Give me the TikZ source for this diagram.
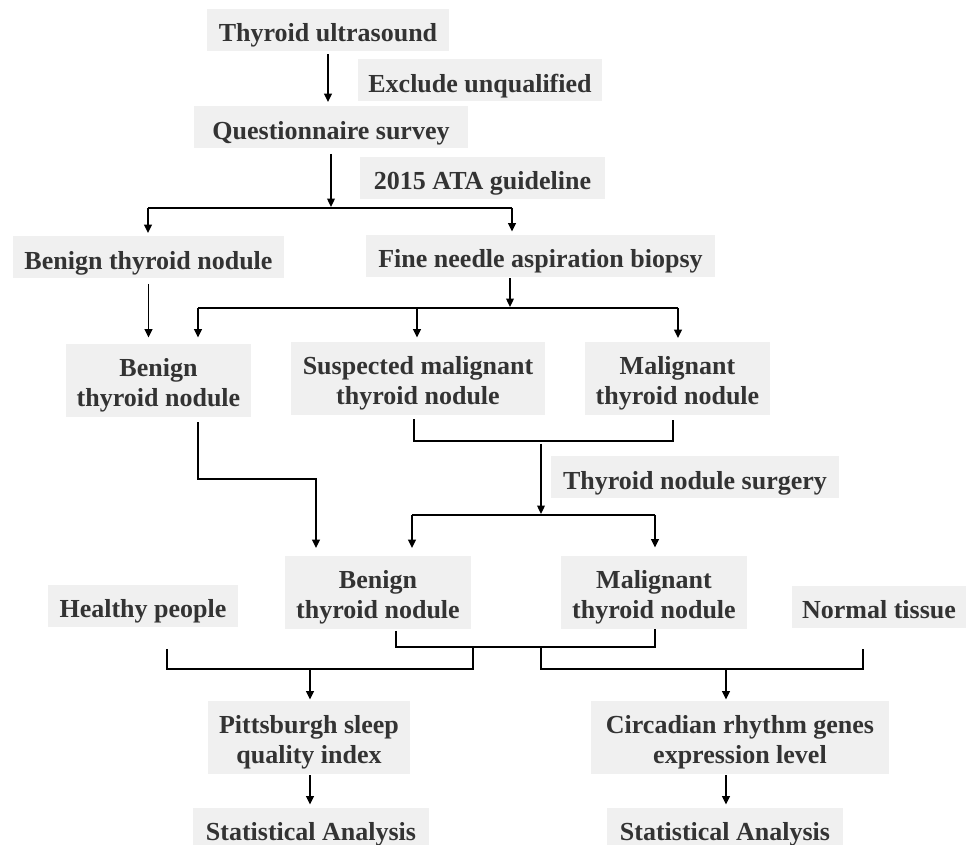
\documentclass[tikz,border=0pt]{standalone}
\usepackage{fontspec}
\setmainfont{Liberation Serif}
\usetikzlibrary{arrows.meta}

\definecolor{boxgray}{RGB}{240,240,240}
\definecolor{txtgray}{RGB}{51,51,51}

\def\lift{\rule{0pt}{13.5pt}}

\begin{document}
\begin{tikzpicture}[x=0.5pt, y=-0.5pt,
  box/.style={fill=boxgray, text=txtgray, font=\fontsize{13}{15}\selectfont\bfseries,
    inner xsep=0pt, inner ysep=0pt, text height=16.5pt, text depth=4.5pt},
  boxtwo/.style={fill=boxgray, text=txtgray, font=\fontsize{13}{15}\selectfont\bfseries,
    align=center, inner xsep=0pt, inner ysep=0pt, minimum height=36.5pt},
  line/.style={line width=0.85pt},
  arr/.style={line width=0.85pt, -{Triangle[length=4.2pt,width=3.8pt]}, shorten >=2pt}]

\useasboundingbox (0,0) rectangle (966,845);

% boxes
\node[box, minimum width=121pt] (ultra) at (328,30) {Thyroid ultrasound};
\node[box, minimum width=122pt] (excl) at (480,80.5) {Exclude unqualified};
\node[box, minimum width=137pt] (quest) at (331,127.5) {Questionnaire survey};
\node[box, minimum width=122.5pt] (ata) at (482.5,178) {2015 ATA guideline};
\node[box, minimum width=135.5pt] (benA) at (148.5,257.5) {Benign thyroid nodule};
\node[box, minimum width=174.5pt] (fna) at (540.5,256) {Fine needle aspiration biopsy};
\node[boxtwo, minimum width=92.5pt] (benB) at (158.5,380.5) {\lift Benign\\thyroid nodule};
\node[boxtwo, minimum width=127pt] (susp) at (418,378.5) {\lift Suspected malignant\\thyroid nodule};
\node[boxtwo, minimum width=92.5pt] (malB) at (677.5,379) {\lift Malignant\\thyroid nodule};
\node[box, minimum width=144pt] (surg) at (695,477.5) {Thyroid nodule surgery};
\node[boxtwo, minimum width=93pt] (benC) at (378,593) {\lift Benign\\thyroid nodule};
\node[boxtwo, minimum width=93pt] (malC) at (654,592.5) {\lift Malignant\\thyroid nodule};
\node[box, minimum width=95pt] (healthy) at (143,606) {Healthy people};
\node[box, minimum width=87pt] (normal) at (879,607) {Normal tissue};
\node[boxtwo, minimum width=101pt] (psqi) at (309,737.5) {\lift Pittsburgh sleep\\quality index};
\node[boxtwo, minimum width=149pt] (circ) at (740,737.5) {\lift Circadian rhythm genes\\expression level};
\node[box, minimum width=118pt] (statA) at (311,829) {Statistical Analysis};
\node[box, minimum width=118pt] (statB) at (725,829) {Statistical Analysis};

% junctions
\coordinate (qsplit) at (331,208);
\coordinate (qleft) at (148,208);
\coordinate (qright) at (512,208);
\coordinate (fsplit) at (510,308);
\coordinate (fleft) at (198,308);
\coordinate (fmid) at (417,308);
\coordinate (fright) at (678,308);
\coordinate (mleft) at (414,441);
\coordinate (mjoin) at (541,441);
\coordinate (mright) at (673,441);
\coordinate (ssplit) at (541,515);
\coordinate (sleft) at (412,515);
\coordinate (sright) at (655,515);
\coordinate (bturn) at (198,479);
\coordinate (bturnb) at (316,479);
\coordinate (cleft) at (396,647);
\coordinate (cright) at (655,647);
\coordinate (hleg) at (167,649);
\coordinate (lleft) at (167,669);
\coordinate (lsplit) at (310,669);
\coordinate (lright) at (473,669);
\coordinate (nleg) at (863,649);
\coordinate (rleft) at (541,669);
\coordinate (rsplit) at (726,669);
\coordinate (rright) at (863,669);

% connectors
\draw[arr, shorten <=1.5pt] (ultra) -- (ultra |- quest.north);
\draw[arr, shorten <=2.5pt, shorten >=0.5pt] (quest) -- (qsplit);
\draw[line] (qleft) -- (qright);
\draw[arr, shorten >=1.5pt] (qleft) -- (qleft |- benA.north);
\draw[arr, shorten >=1.5pt] (qright) -- (qright |- fna.north);

\draw[arr, shorten <=2.5pt, shorten >=3pt] (benA) -- (benA |- benB.north);
\draw[arr, shorten <=0.5pt, shorten >=0.5pt] (fsplit |- fna.south) -- (fsplit);
\draw[line] (fleft) -- (fright);
\draw[arr, shorten >=3pt] (fleft) -- (fleft |- benB.north);
\draw[arr, shorten >=2pt] (fmid) -- (fmid |- susp.north);
\draw[arr, shorten >=2pt] (fright) -- (fright |- malB.north);

\draw[line, shorten <=2pt, shorten >=2pt] (mleft |- susp.south) -- (mleft) -- (mright) -- (mright |- malB.south);
\draw[arr, shorten <=1.5pt, shorten >=0.5pt] (mjoin) -- (ssplit);
\draw[line] (sleft) -- (sright);
\draw[arr, shorten >=4pt] (sleft) -- (sleft |- benC.north);
\draw[arr, shorten >=4pt] (sright) -- (sright |- malC.north);
\draw[arr, shorten <=2.5pt, shorten >=4pt] (bturn |- benB.south) -- (bturn) -- (bturnb) -- (bturnb |- benC.north);

\draw[line, shorten <=0.5pt] (cleft |- benC.south) -- (cleft) -- (cright) -- (cright |- malC.south);
\draw[line] (hleg) -- (lleft) -- (lright) -- (lright |- cleft);
\draw[line] (rleft |- cleft) -- (rleft) -- (rright) -- (nleg);
\draw[arr, shorten >=0.5pt] (lsplit) -- (lsplit |- psqi.north);
\draw[arr, shorten >=0.5pt] (rsplit) -- (rsplit |- circ.north);
\draw[arr, shorten <=0.5pt, shorten >=1.5pt] (lsplit |- psqi.south) -- (lsplit |- statA.north);
\draw[arr, shorten <=0.5pt, shorten >=1.5pt] (rsplit |- circ.south) -- (rsplit |- statB.north);

\end{tikzpicture}
\end{document}
